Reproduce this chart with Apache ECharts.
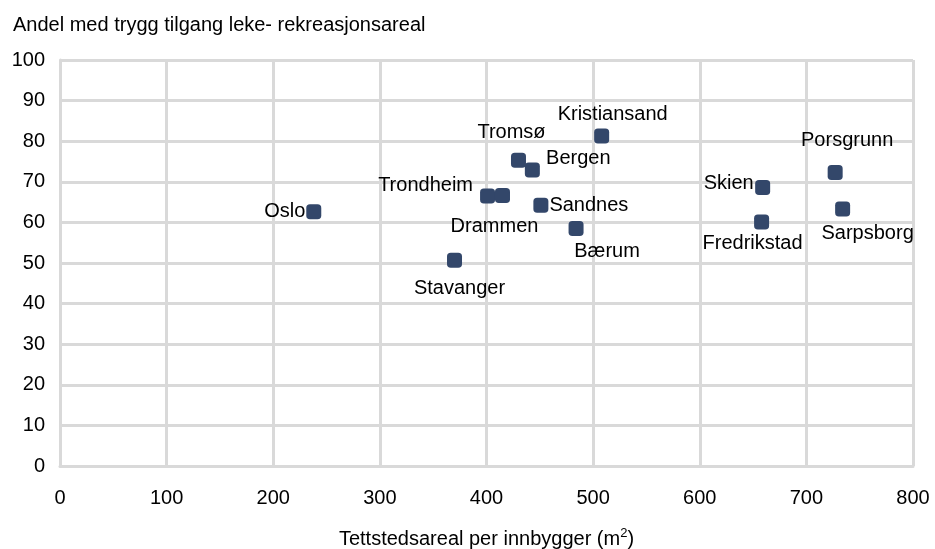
<!DOCTYPE html>
<html>
<head>
<meta charset="utf-8">
<script src="https://cdn.jsdelivr.net/npm/echarts@6/dist/echarts.min.js"></script>
<style>
    html, body { margin: 0; padding: 0; background: #fff; }
    #main { width: 935px; height: 549px; }
</style>
</head>
<body>
<div id="main"></div>
<script>
var cities = ['Oslo', 'Stavanger', 'Trondheim', 'Drammen', 'Tromsø', 'Bergen', 'Sandnes',
    'Bærum', 'Kristiansand', 'Skien', 'Fredrikstad', 'Porsgrunn', 'Sarpsborg'];
var areaPerPerson = [238, 370, 401, 415, 430, 443, 451, 484, 508, 659, 658, 727, 734];
var safeAccess = [62.6, 50.7, 66.5, 66.6, 75.3, 72.9, 64.2, 58.5, 81.3, 68.6, 60.1, 72.3, 63.3];
var xTicks = [0, 100, 200, 300, 400, 500, 600, 700, 800];
var yTicks = [0, 10, 20, 30, 40, 50, 60, 70, 80, 90, 100];

(function() {

    var font = 'Liberation Sans, Arial, sans-serif';
    var size = 20;

    /**
     * 标签相对点中心的偏移
     */
    var labelOffset = {
        'Oslo': [-29, 0],
        'Stavanger': [5, 28],
        'Trondheim': [-62, -11],
        'Drammen': [-8, 31],
        'Tromsø': [-7, -28],
        'Bergen': [46, -12],
        'Sandnes': [48, 0],
        'Bærum': [31, 23],
        'Kristiansand': [11, -21],
        'Skien': [-34, -4],
        'Fredrikstad': [-9, 21],
        'Porsgrunn': [12, -32],
        'Sarpsborg': [25, 24]
    };

    var points = cities.map(function(name, i) {
        return {
            name: name,
            value: [areaPerPerson[i], safeAccess[i]],
            label: { offset: labelOffset[name] }
        };
    });

    var gridLine = { lineStyle: { color: '#d9d9d9', width: 3 } };

    var myChart = echarts.init(document.getElementById('main'));

    myChart.setOption({
        animation: false,
        title: {
            text: 'Andel med trygg tilgang leke- rekreasjonsareal',
            left: 8,
            top: 10,
            textStyle: { fontFamily: font, fontSize: size, fontWeight: 'normal', color: '#000' }
        },
        grid: { left: 60, right: 22, top: 60, bottom: 83, outerBoundsMode: 'none' },
        xAxis: {
            type: 'value',
            min: xTicks[0],
            max: xTicks[xTicks.length - 1],
            interval: 100,
            name: 'Tettstedsareal per innbygger (m{sup|2})',
            nameLocation: 'middle',
            nameGap: 61,
            nameTextStyle: {
                fontFamily: font, fontSize: size, color: '#000',
                rich: { sup: { fontFamily: font, fontSize: 13, color: '#000', verticalAlign: 'top', padding: [0, 0, 12, 0] } }
            },
            axisLine: gridLine,
            axisTick: { show: false },
            splitLine: gridLine,
            axisLabel: { fontFamily: font, fontSize: size, color: '#000', margin: 22 }
        },
        yAxis: {
            type: 'value',
            min: yTicks[0],
            max: yTicks[yTicks.length - 1],
            interval: 10,
            axisLine: { show: true, lineStyle: { color: '#d9d9d9', width: 3 } },
            axisTick: { show: false },
            splitLine: gridLine,
            axisLabel: { fontFamily: font, fontSize: size, color: '#000', margin: 15 }
        },
        series: [{
            type: 'scatter',
            symbol: 'roundRect',
            symbolSize: 15,
            itemStyle: { color: '#33476a', opacity: 1 },
            label: {
                show: true,
                position: 'inside',
                formatter: '{b}',
                fontFamily: font,
                fontSize: size,
                color: '#000'
            },
            data: points
        }]
    });

})();
</script>
</body>
</html>
